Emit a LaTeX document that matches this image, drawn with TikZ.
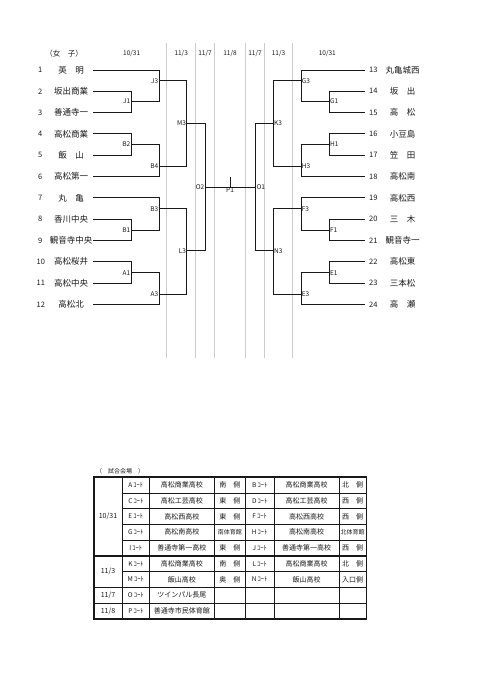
\documentclass[tikz,border=0pt]{standalone}
\usepackage{fontspec}
\setmainfont{Noto Sans CJK JP}
\usetikzlibrary{positioning}
\definecolor{fg}{rgb}{0.1,0.1,0.1}
\definecolor{rule}{rgb}{0.8,0.8,0.8}
\tikzstyle{team}=[inner sep=0pt, text=fg, font=\fontsize{8.5}{9}\selectfont]
\tikzstyle{seed}=[anchor=west, inner sep=0pt, text=fg, font=\fontsize{7.5}{8}\selectfont]
\tikzstyle{game}=[inner sep=0.6pt, text=fg, font=\fontsize{6.5}{7}\selectfont]
\tikzstyle{day}=[inner sep=0pt, text=fg, font=\fontsize{6.5}{7}\selectfont]
\tikzstyle{cell}=[inner sep=0pt, text=fg, font=\fontsize{7}{7}\selectfont]
\tikzstyle{court}=[cell, font=\fontsize{6.5}{7}\selectfont]
\tikzstyle{small}=[cell, font=\fontsize{6}{6}\selectfont]
\tikzstyle{bracket}=[draw=fg, line width=0.9pt]
\tikzstyle{daysep}=[draw=rule, line width=0.9pt]
\tikzstyle{grid}=[draw=fg, line width=0.5pt]
\tikzstyle{frame}=[draw=fg, line width=1.3pt]

\begin{document}
\begin{tikzpicture}[x=1pt, y=-1pt]

    \useasboundingbox (0,0) rectangle (481,680);

    % day columns
    \draw[daysep] (166.7,43) -- (166.7,358);
    \draw[daysep] (195.7,43) -- (195.7,358);
    \draw[daysep] (214.3,43) -- (214.3,358);
    \draw[daysep] (245.7,43) -- (245.7,358);
    \draw[daysep] (264.3,43) -- (264.3,358);
    \draw[daysep] (292.7,43) -- (292.7,358);

    \node[team, font=\fontsize{7.5}{8}\selectfont] (title) at (64,54) {（女　子）};
    \node[day] (dayL1) at (131.7,54) {10/31};
    \node[day] (dayL2) at (181.2,54) {11/3};
    \node[day] (dayL3) at (205,54) {11/7};
    \node[day] (dayF) at (230,54) {11/8};
    \node[day] (dayR3) at (255,54) {11/7};
    \node[day] (dayR2) at (278.5,54) {11/3};
    \node[day] (dayR1) at (327.3,54) {10/31};

    % left side teams
    \node[seed] (seed1) at (38,70) {1};
    \node[team] (team1) at (71,70) {英　明};
    \node[seed] (seed2) at (38,91.3) {2};
    \node[team] (team2) at (71,91.3) {坂出商業};
    \node[seed] (seed3) at (38,112.6) {3};
    \node[team] (team3) at (71,112.6) {善通寺一};
    \node[seed] (seed4) at (38,133.9) {4};
    \node[team] (team4) at (71,133.9) {高松商業};
    \node[seed] (seed5) at (38,155.2) {5};
    \node[team] (team5) at (71,155.2) {飯　山};
    \node[seed] (seed6) at (38,176.5) {6};
    \node[team] (team6) at (71,176.5) {高松第一};
    \node[seed] (seed7) at (38,197.8) {7};
    \node[team] (team7) at (71,197.8) {丸　亀};
    \node[seed] (seed8) at (38,219.1) {8};
    \node[team] (team8) at (71,219.1) {香川中央};
    \node[seed] (seed9) at (38,240.4) {9};
    \node[team] (team9) at (71,240.4) {観音寺中央};
    \node[seed] (seed10) at (36.5,261.7) {10};
    \node[team] (team10) at (71,261.7) {高松桜井};
    \node[seed] (seed11) at (36.5,283) {11};
    \node[team] (team11) at (71,283) {高松中央};
    \node[seed] (seed12) at (36.5,304.3) {12};
    \node[team] (team12) at (71,304.3) {高松北};

    % right side teams
    \node[seed] (seed13) at (369,70) {13};
    \node[team] (team13) at (402.5,70) {丸亀城西};
    \node[seed] (seed14) at (369,91.3) {14};
    \node[team] (team14) at (402.5,91.3) {坂　出};
    \node[seed] (seed15) at (369,112.6) {15};
    \node[team] (team15) at (402.5,112.6) {高　松};
    \node[seed] (seed16) at (369,133.9) {16};
    \node[team] (team16) at (402.5,133.9) {小豆島};
    \node[seed] (seed17) at (369,155.2) {17};
    \node[team] (team17) at (402.5,155.2) {笠　田};
    \node[seed] (seed18) at (369,176.5) {18};
    \node[team] (team18) at (402.5,176.5) {高松南};
    \node[seed] (seed19) at (369,197.8) {19};
    \node[team] (team19) at (402.5,197.8) {高松西};
    \node[seed] (seed20) at (369,219.1) {20};
    \node[team] (team20) at (402.5,219.1) {三　木};
    \node[seed] (seed21) at (369,240.4) {21};
    \node[team] (team21) at (402.5,240.4) {観音寺一};
    \node[seed] (seed22) at (369,261.7) {22};
    \node[team] (team22) at (402.5,261.7) {高松東};
    \node[seed] (seed23) at (369,283) {23};
    \node[team] (team23) at (402.5,283) {三本松};
    \node[seed] (seed24) at (369,304.3) {24};
    \node[team] (team24) at (402.5,304.3) {高　瀬};

    % line ends of the teams
    \coordinate (s1) at (93.3,70);
    \coordinate (s2) at (93.3,91.3);
    \coordinate (s3) at (93.3,112.6);
    \coordinate (s4) at (93.3,133.9);
    \coordinate (s5) at (93.3,155.2);
    \coordinate (s6) at (93.3,176.5);
    \coordinate (s7) at (93.3,197.8);
    \coordinate (s8) at (93.3,219.1);
    \coordinate (s9) at (93.3,240.4);
    \coordinate (s10) at (93.3,261.7);
    \coordinate (s11) at (93.3,283);
    \coordinate (s12) at (93.3,304.3);
    \coordinate (s13) at (365,70);
    \coordinate (s14) at (365,91.3);
    \coordinate (s15) at (365,112.6);
    \coordinate (s16) at (365,133.9);
    \coordinate (s17) at (365,155.2);
    \coordinate (s18) at (365,176.5);
    \coordinate (s19) at (365,197.8);
    \coordinate (s20) at (365,219.1);
    \coordinate (s21) at (365,240.4);
    \coordinate (s22) at (365,261.7);
    \coordinate (s23) at (365,283);
    \coordinate (s24) at (365,304.3);

    % matches
    \coordinate (mJ1) at (131,101.3);
    \coordinate (mJ3) at (159,80.7);
    \coordinate (mB2) at (131,144.3);
    \coordinate (mB4) at (159,166);
    \coordinate (mM3) at (186.7,123.3);
    \coordinate (mB1) at (131,230.3);
    \coordinate (mB3) at (159,208.7);
    \coordinate (mA1) at (131,272.7);
    \coordinate (mA3) at (159,294.3);
    \coordinate (mL3) at (186.7,250.7);
    \coordinate (mO2) at (205,187.3);
    \coordinate (mP1) at (230,187.3);
    \coordinate (tP1) at (230,176.7);
    \coordinate (mO1) at (255.7,187.3);
    \coordinate (mK3) at (273.3,123.3);
    \coordinate (mG3) at (301,80.7);
    \coordinate (mG1) at (329.3,101.3);
    \coordinate (mH1) at (329.3,144.3);
    \coordinate (mH3) at (301,166);
    \coordinate (mN3) at (273.3,250.7);
    \coordinate (mF3) at (301,208.7);
    \coordinate (mF1) at (329.3,230.3);
    \coordinate (mE1) at (329.3,272.7);
    \coordinate (mE3) at (301,294.3);

    \draw[bracket] (s1) -| (mJ3);
    \draw[bracket] (s2) -| (mJ1);
    \draw[bracket] (s3) -| (mJ1);
    \draw[bracket] (mJ1) -| (mJ3);
    \draw[bracket] (mJ3) -| (mM3);
    \draw[bracket] (s4) -| (mB2);
    \draw[bracket] (s5) -| (mB2);
    \draw[bracket] (mB2) -| (mB4);
    \draw[bracket] (s6) -| (mB4);
    \draw[bracket] (mB4) -| (mM3);
    \draw[bracket] (mM3) -| (mO2);
    \draw[bracket] (s7) -| (mB3);
    \draw[bracket] (s8) -| (mB1);
    \draw[bracket] (s9) -| (mB1);
    \draw[bracket] (mB1) -| (mB3);
    \draw[bracket] (mB3) -| (mL3);
    \draw[bracket] (s10) -| (mA1);
    \draw[bracket] (s11) -| (mA1);
    \draw[bracket] (mA1) -| (mA3);
    \draw[bracket] (s12) -| (mA3);
    \draw[bracket] (mA3) -| (mL3);
    \draw[bracket] (mL3) -| (mO2);
    \draw[bracket] (mO2) -- (mO1);
    \draw[bracket] (mP1) -- (tP1);
    \draw[bracket] (s13) -| (mG3);
    \draw[bracket] (s14) -| (mG1);
    \draw[bracket] (s15) -| (mG1);
    \draw[bracket] (mG1) -| (mG3);
    \draw[bracket] (mG3) -| (mK3);
    \draw[bracket] (s16) -| (mH1);
    \draw[bracket] (s17) -| (mH1);
    \draw[bracket] (mH1) -| (mH3);
    \draw[bracket] (s18) -| (mH3);
    \draw[bracket] (mH3) -| (mK3);
    \draw[bracket] (mK3) -| (mO1);
    \draw[bracket] (s19) -| (mF3);
    \draw[bracket] (s20) -| (mF1);
    \draw[bracket] (s21) -| (mF1);
    \draw[bracket] (mF1) -| (mF3);
    \draw[bracket] (mF3) -| (mN3);
    \draw[bracket] (s22) -| (mE1);
    \draw[bracket] (s23) -| (mE1);
    \draw[bracket] (mE1) -| (mE3);
    \draw[bracket] (s24) -| (mE3);
    \draw[bracket] (mE3) -| (mN3);
    \draw[bracket] (mN3) -| (mO1);

    % match labels
    \node[game, anchor=east] (J1) at (mJ1) {J1};
    \node[game, anchor=east] (J3) at (mJ3) {J3};
    \node[game, anchor=east] (B2) at (mB2) {B2};
    \node[game, anchor=east] (B4) at (mB4) {B4};
    \node[game, anchor=east] (M3) at (mM3) {M3};
    \node[game, anchor=east] (B1) at (mB1) {B1};
    \node[game, anchor=east] (B3) at (mB3) {B3};
    \node[game, anchor=east] (A1) at (mA1) {A1};
    \node[game, anchor=east] (A3) at (mA3) {A3};
    \node[game, anchor=east] (L3) at (mL3) {L3};
    \node[game, anchor=east] (O2) at (mO2) {O2};
    \node[game, anchor=north] (P1) at (mP1) {P1};
    \node[game, anchor=west] (O1) at (mO1) {O1};
    \node[game, anchor=west] (K3) at (mK3) {K3};
    \node[game, anchor=west] (G3) at (mG3) {G3};
    \node[game, anchor=west] (G1) at (mG1) {G1};
    \node[game, anchor=west] (H1) at (mH1) {H1};
    \node[game, anchor=west] (H3) at (mH3) {H3};
    \node[game, anchor=west] (N3) at (mN3) {N3};
    \node[game, anchor=west] (F3) at (mF3) {F3};
    \node[game, anchor=west] (F1) at (mF1) {F1};
    \node[game, anchor=west] (E1) at (mE1) {E1};
    \node[game, anchor=west] (E3) at (mE3) {E3};

    % venues
    \node[small] (venues) at (120,471) {（　試合会場　）};

    \draw[grid] (122.3,477) -- (122.3,619);
    \draw[grid] (149.3,477) -- (149.3,619);
    \draw[grid] (214.3,477) -- (214.3,619);
    \draw[grid] (274,477) -- (274,619);
    \draw[grid] (339,477) -- (339,619);
    \draw[grid] (122.3,492.8) -- (366.5,492.8);
    \draw[grid] (122.3,508.6) -- (366.5,508.6);
    \draw[grid] (122.3,524.3) -- (366.5,524.3);
    \draw[grid] (122.3,540.1) -- (366.5,540.1);
    \draw[grid] (122.3,571.7) -- (366.5,571.7);
    \draw[frame] (94,555.9) -- (366.5,555.9);
    \draw[frame] (94,587.5) -- (366.5,587.5);
    \draw[frame] (94,603.2) -- (366.5,603.2);
    \draw[frame, line width=1.5pt] (245.5,477) -- (245.5,619);
    \draw[frame] (94,477) rectangle (366.5,619);

    \node[cell] (day1) at (108,516.4) {10/31};
    \node[cell] (day2) at (108,571.7) {11/3};
    \node[cell] (day3) at (108,595.3) {11/7};
    \node[cell] (day4) at (108,611.1) {11/8};

    \node[court] (cA) at (135.8,484.9) {A\,ｺｰﾄ};
    \node[cell] (vA) at (181.8,484.9) {高松商業高校};
    \node[cell] (pA) at (229.9,484.9) {南　側};
    \node[court] (cC) at (135.8,500.7) {C\,ｺｰﾄ};
    \node[cell] (vC) at (181.8,500.7) {高松工芸高校};
    \node[cell] (pC) at (229.9,500.7) {東　側};
    \node[court] (cE) at (135.8,516.4) {E\,ｺｰﾄ};
    \node[cell] (vE) at (181.8,516.4) {高松西高校};
    \node[cell] (pE) at (229.9,516.4) {東　側};
    \node[court] (cG) at (135.8,532.2) {G\,ｺｰﾄ};
    \node[cell] (vG) at (181.8,532.2) {高松南高校};
    \node[small] (pG) at (229.9,532.2) {南体育館};
    \node[court] (cI) at (135.8,548) {I\,ｺｰﾄ};
    \node[cell] (vI) at (181.8,548) {善通寺第一高校};
    \node[cell] (pI) at (229.9,548) {東　側};
    \node[court] (cK) at (135.8,563.8) {K\,ｺｰﾄ};
    \node[cell] (vK) at (181.8,563.8) {高松商業高校};
    \node[cell] (pK) at (229.9,563.8) {南　側};
    \node[court] (cM) at (135.8,579.6) {M\,ｺｰﾄ};
    \node[cell] (vM) at (181.8,579.6) {飯山高校};
    \node[cell] (pM) at (229.9,579.6) {奥　側};
    \node[court] (cO) at (135.8,595.3) {O\,ｺｰﾄ};
    \node[cell] (vO) at (181.8,595.3) {ツインパル長尾};
    \node[court] (cP) at (135.8,611.1) {P\,ｺｰﾄ};
    \node[cell] (vP) at (181.8,611.1) {善通寺市民体育館};

    \node[court] (cB) at (259.7,484.9) {B\,ｺｰﾄ};
    \node[cell] (vB) at (306.5,484.9) {高松商業高校};
    \node[cell] (pB) at (352.7,484.9) {北　側};
    \node[court] (cD) at (259.7,500.7) {D\,ｺｰﾄ};
    \node[cell] (vD) at (306.5,500.7) {高松工芸高校};
    \node[cell] (pD) at (352.7,500.7) {西　側};
    \node[court] (cF) at (259.7,516.4) {F\,ｺｰﾄ};
    \node[cell] (vF) at (306.5,516.4) {高松西高校};
    \node[cell] (pF) at (352.7,516.4) {西　側};
    \node[court] (cH) at (259.7,532.2) {H\,ｺｰﾄ};
    \node[cell] (vH) at (306.5,532.2) {高松南高校};
    \node[small] (pH) at (352.7,532.2) {北体育館};
    \node[court] (cJ) at (259.7,548) {J\,ｺｰﾄ};
    \node[cell] (vJ) at (306.5,548) {善通寺第一高校};
    \node[cell] (pJ) at (352.7,548) {西　側};
    \node[court] (cL) at (259.7,563.8) {L\,ｺｰﾄ};
    \node[cell] (vL) at (306.5,563.8) {高松商業高校};
    \node[cell] (pL) at (352.7,563.8) {北　側};
    \node[court] (cN) at (259.7,579.6) {N\,ｺｰﾄ};
    \node[cell] (vN) at (306.5,579.6) {飯山高校};
    \node[cell] (pN) at (352.7,579.6) {入口側};

\end{tikzpicture}
\end{document}
